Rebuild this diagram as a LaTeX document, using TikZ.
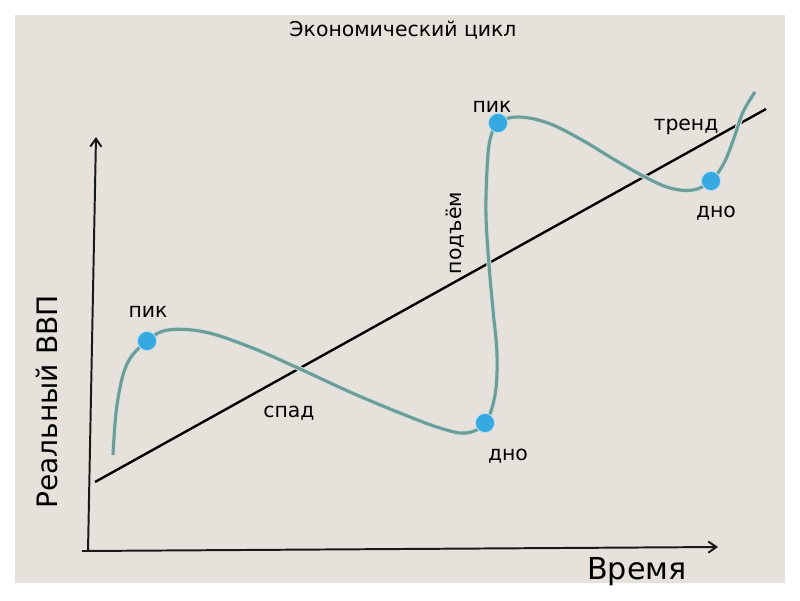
\documentclass[tikz,border=0pt]{standalone}
\usepackage{fontspec}
\setmainfont{DejaVu Sans}
\usetikzlibrary{arrows.meta, positioning}
\definecolor{paper}{HTML}{E6E1DA}
\definecolor{cycleLine}{HTML}{6C9D97}
\definecolor{dotBlue}{HTML}{36A9E1}
\tikzset{
    cycDot/.style={
        circle,
        fill=dotBlue,
        draw=dotBlue!35!white,
        line width=0.6pt,
        inner sep=0pt,
        minimum size=4.8mm
    },
    lbl/.style={font=\fontsize{14.5}{17}\selectfont, text=black, inner sep=1pt},
    axisLine/.style={line width=1.4pt, black!90}
}

\begin{document}
\begin{tikzpicture}[x=0.025cm, y=0.025cm, >={Straight Barb[length=2mm, width=2.8mm]}]
            % Frame
            \useasboundingbox (0,0) rectangle (800,-600);
            \fill[paper] (15,-15) rectangle (785,-583);

            % Coordinates
            \coordinate (O) at (88,-551);
            \coordinate (xStart) at (82,-551);
            \coordinate (yTop) at (96,-137);
            \coordinate (xEnd) at (718,-547);
            \coordinate (trendA) at (95,-482);
            \coordinate (trendB) at (766,-109);

            % Axes
            \draw[->, axisLine] (O) -- (yTop);
            \draw[->, axisLine] (xStart) -- (xEnd);

            % Trend line
            \draw[line width=1.7pt] (trendA) -- (trendB);

            % Cycle curve
            \foreach \w/\c in {3.6pt/cycleLine!30!white, 2.2pt/cycleLine}{
                \draw[line width=\w, \c] plot[smooth, tension=0.6] coordinates {
                    (113,-455) (117,-405) (127,-364) (147,-341) (168,-330)
                    (205,-332) (250,-347) (298,-368) (350,-392) (400,-413)
                    (440,-428) (466,-433) (485,-423) (495,-395) (497,-355)
                    (493,-310) (489,-265) (486,-215) (487,-170) (490,-140)
                    (498,-123) (518,-117) (548,-123) (582,-140) (615,-160)
                    (645,-177) (670,-188) (693,-190) (711,-181) (724,-163)
                    (734,-138) (743,-112) (755,-92)
                };
            }

            % Peaks and troughs
            \node[cycDot] (peakA) at (147,-341) {};
            \node[cycDot] (troughA) at (485,-423) {};
            \node[cycDot] (peakB) at (498,-123) {};
            \node[cycDot] (troughB) at (711,-181) {};

            % Labels
            \node[lbl] (lblPeakA) at (148,-312) {пик};
            \node[lbl] (lblFall) at (289,-413) {спад};
            \node[lbl] (lblTroughA) at (508,-456) {дно};
            \node[lbl, rotate=90] (lblRise) at (455,-233) {подъём};
            \node[lbl] (lblPeakB) at (492,-107) {пик};
            \node[lbl] (lblTrend) at (686,-127) {тренд};
            \node[lbl] (lblTroughB) at (716,-213) {дно};

            % Title and axis names
            \node[lbl] (title) at (403,-30) {Экономический цикл};
            \node[font=\fontsize{21.5}{25}\selectfont, text=black] (xName) at (637,-572) {Время};
            \node[font=\fontsize{20}{24}\selectfont, text=black, rotate=90] (yName) at (47,-402) {Реальный ВВП};
        \end{tikzpicture}
\end{document}
